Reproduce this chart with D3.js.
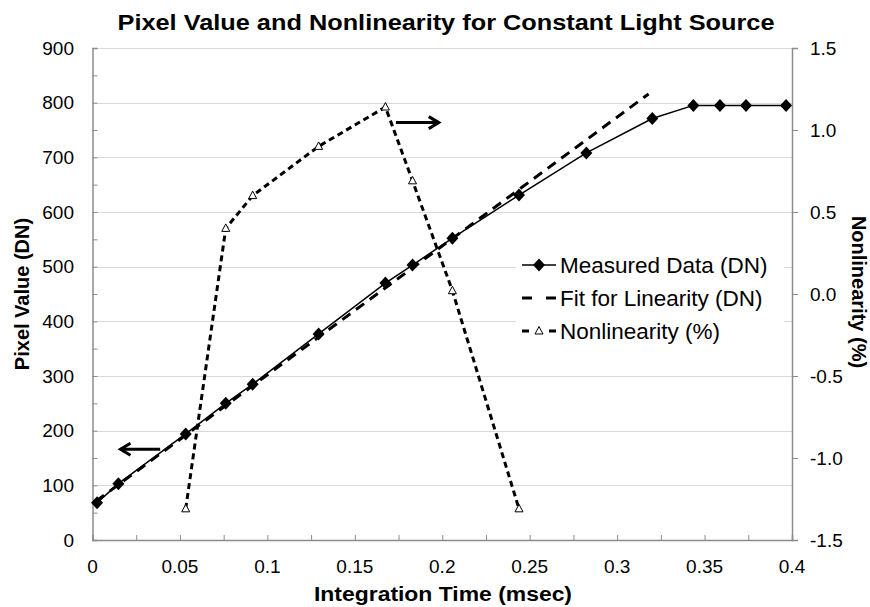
<!DOCTYPE html>
<html>
<head>
<meta charset="utf-8">
<script src="https://cdn.jsdelivr.net/npm/d3@7"></script>
<style>
  body { margin: 0; background: #fff; }
  svg text { font-family: "Liberation Sans", Arial, sans-serif; fill: #000; }
</style>
</head>
<body>
<div id="chart"></div>
<script>
// measured pixel value (left axis)
const timeMs = [0.0026, 0.0148, 0.0533, 0.0762, 0.0916, 0.1293, 0.1675, 0.1830, 0.2058, 0.2439, 0.2824, 0.3201, 0.3436, 0.3588, 0.3737, 0.3966];
const measuredDN = [68, 103, 194, 250, 285, 377, 470, 503, 552, 631, 708, 771, 795, 795, 795, 795];

// linear fit (left axis)
const fitTime = [0.002, 0.318];
const fitDN = [71, 816];

// nonlinearity (right axis)
const nonlinTime = [0.0533, 0.0762, 0.0916, 0.1293, 0.1675, 0.1830, 0.2058, 0.2439];
const nonlinPct = [-1.31, 0.40, 0.60, 0.90, 1.14, 0.69, 0.02, -1.31];

const xTicks = [0, 0.05, 0.1, 0.15, 0.2, 0.25, 0.3, 0.35, 0.4];
const yLeftTicks = [0, 100, 200, 300, 400, 500, 600, 700, 800, 900];
const yRightTicks = [-1.5, -1.0, -0.5, 0.0, 0.5, 1.0, 1.5];

const legendItems = ["Measured Data (DN)", "Fit for Linearity (DN)", "Nonlinearity (%)"];

const width = 870;
const height = 607;
const axisColor = "#8c8c8c";
const gridColor = "#d9d9d9";

const x = d3.scaleLinear().domain([0, 0.4]).range([92.5, 792]);
const yL = d3.scaleLinear().domain([0, 900]).range([540, 48]);
const yR = d3.scaleLinear().domain([-1.5, 1.5]).range([540, 48]);

const svg = d3.select("#chart")
  .append("svg")
  .attr("width", width)
  .attr("height", height);

// gridlines
svg.append("g")
  .selectAll("line")
  .data(yLeftTicks.slice(1))
  .enter()
  .append("line")
  .attr("x1", x(0))
  .attr("x2", x(0.4))
  .attr("y1", (d) => Math.round(yL(d)) + 0.5)
  .attr("y2", (d) => Math.round(yL(d)) + 0.5)
  .attr("stroke", gridColor)
  .attr("stroke-width", 1);

// axes
const xAxis = svg.append("g")
  .attr("transform", `translate(0,${yL(0)})`)
  .call(d3.axisBottom(x).tickValues(d3.range(0, 0.4001, 0.025)).tickSize(-5).tickFormat(""));
const yAxisL = svg.append("g")
  .attr("transform", `translate(${x(0)},0)`)
  .call(d3.axisLeft(yL).tickValues(d3.range(0, 901, 50)).tickSize(-5).tickFormat(""));
const yAxisR = svg.append("g")
  .attr("transform", `translate(${x(0.4)},0)`)
  .call(d3.axisRight(yR).tickValues(yRightTicks).tickSize(6).tickFormat(""));

[xAxis, yAxisL, yAxisR].forEach((g) => {
  g.select(".domain").attr("stroke", axisColor).attr("stroke-width", 1.5);
  g.selectAll(".tick line").attr("stroke", axisColor).attr("stroke-width", 1);
});

// tick labels
svg.append("g")
  .selectAll("text")
  .data(xTicks)
  .enter()
  .append("text")
  .attr("x", (d) => x(d))
  .attr("y", 573)
  .attr("text-anchor", "middle")
  .attr("font-size", 19)
  .text((d) => d3.format("")(d));

svg.append("g")
  .selectAll("text")
  .data(yLeftTicks)
  .enter()
  .append("text")
  .attr("x", 74)
  .attr("y", (d) => yL(d))
  .attr("dy", "0.35em")
  .attr("text-anchor", "end")
  .attr("font-size", 19)
  .text((d) => d);

svg.append("g")
  .selectAll("text")
  .data(yRightTicks)
  .enter()
  .append("text")
  .attr("x", 810)
  .attr("y", (d) => yR(d))
  .attr("dy", "0.35em")
  .attr("font-size", 19)
  .text((d) => d3.format(".1f")(d).replace("−", "-"));

// title and axis titles
svg.append("text")
  .attr("x", 446)
  .attr("y", 30)
  .attr("text-anchor", "middle")
  .attr("font-size", 22)
  .attr("font-weight", "bold")
  .attr("textLength", 657)
  .attr("lengthAdjust", "spacingAndGlyphs")
  .text("Pixel Value and Nonlinearity for Constant Light Source");

svg.append("text")
  .attr("x", 443)
  .attr("y", 601)
  .attr("text-anchor", "middle")
  .attr("font-size", 20)
  .attr("font-weight", "bold")
  .attr("textLength", 258)
  .attr("lengthAdjust", "spacingAndGlyphs")
  .text("Integration Time (msec)");

svg.append("text")
  .attr("transform", "translate(29,294) rotate(-90)")
  .attr("text-anchor", "middle")
  .attr("font-size", 20)
  .attr("font-weight", "bold")
  .text("Pixel Value (DN)");

svg.append("text")
  .attr("transform", "translate(852,292) rotate(90)")
  .attr("text-anchor", "middle")
  .attr("font-size", 20)
  .attr("font-weight", "bold")
  .text("Nonlinearity (%)");

// series
const measured = timeMs.map((t, i) => ({ t, v: measuredDN[i] }));
const fit = fitTime.map((t, i) => ({ t, v: fitDN[i] }));
const nonlin = nonlinTime.map((t, i) => ({ t, v: nonlinPct[i] }));

const diamond = "M0,-6.5L6,0L0,6.5L-6,0Z";
const triangle = "M0,-4.5L4,3L-4,3Z";

svg.append("path")
  .datum(measured)
  .attr("fill", "none")
  .attr("stroke", "#000")
  .attr("stroke-width", 1.5)
  .attr("d", d3.line().x((d) => x(d.t)).y((d) => yL(d.v)));

svg.append("g")
  .selectAll("path")
  .data(measured)
  .enter()
  .append("path")
  .attr("d", diamond)
  .attr("transform", (d) => `translate(${x(d.t)},${yL(d.v)})`)
  .attr("fill", "#000");

svg.append("path")
  .datum(fit)
  .attr("fill", "none")
  .attr("stroke", "#000")
  .attr("stroke-width", 3)
  .attr("stroke-dasharray", "10,7")
  .attr("d", d3.line().x((d) => x(d.t)).y((d) => yL(d.v)));

svg.append("path")
  .datum(nonlin)
  .attr("fill", "none")
  .attr("stroke", "#000")
  .attr("stroke-width", 3)
  .attr("stroke-dasharray", "6,4")
  .attr("d", d3.line().x((d) => x(d.t)).y((d) => yR(d.v)));

svg.append("g")
  .selectAll("path")
  .data(nonlin)
  .enter()
  .append("path")
  .attr("d", triangle)
  .attr("transform", (d) => `translate(${x(d.t)},${yR(d.v)})`)
  .attr("fill", "#fff")
  .attr("stroke", "#000")
  .attr("stroke-width", 1);

// arrows pointing to each axis
const arrows = [
  { from: [x(0.0387), yL(166)], to: [x(0.016), yL(166)] },
  { from: [x(0.1735), yR(1.045)], to: [x(0.198), yR(1.045)] },
];
arrows.forEach((a) => {
  const dir = Math.sign(a.to[0] - a.from[0]);
  const g = svg.append("g")
    .attr("stroke", "#000")
    .attr("stroke-width", 3)
    .attr("fill", "none");
  g.append("line")
    .attr("x1", a.from[0]).attr("y1", a.from[1])
    .attr("x2", a.to[0]).attr("y2", a.to[1]);
  g.append("path")
    .attr("d", `M${a.to[0] - dir * 10},${a.to[1] - 6}L${a.to[0]},${a.to[1]}L${a.to[0] - dir * 10},${a.to[1] + 6}`);
});

// legend
const legend = svg.append("g");
legend.append("rect")
  .attr("x", 516)
  .attr("y", 248)
  .attr("width", 268)
  .attr("height", 100)
  .attr("fill", "#fff");

const rowY = [265, 298, 331];
const lg = legend.selectAll("g.item")
  .data(legendItems)
  .enter()
  .append("g")
  .attr("class", "item")
  .attr("transform", (d, i) => `translate(0,${rowY[i]})`);

lg.append("text")
  .attr("x", 560)
  .attr("dy", "0.35em")
  .attr("font-size", 22.5)
  .text((d) => d);

const l0 = d3.select(lg.nodes()[0]);
l0.append("line").attr("x1", 522).attr("x2", 556).attr("stroke", "#000").attr("stroke-width", 1.5);
l0.append("path").attr("d", diamond).attr("transform", "translate(539,0)").attr("fill", "#000");

const l1 = d3.select(lg.nodes()[1]);
l1.append("line").attr("x1", 522).attr("x2", 556).attr("stroke", "#000").attr("stroke-width", 3).attr("stroke-dasharray", "10,14");

const l2 = d3.select(lg.nodes()[2]);
l2.append("line").attr("x1", 522).attr("x2", 556).attr("stroke", "#000").attr("stroke-width", 3).attr("stroke-dasharray", "7,20");
l2.append("path").attr("d", triangle).attr("transform", "translate(539,0)").attr("fill", "#fff").attr("stroke", "#000");
</script>
</body>
</html>
